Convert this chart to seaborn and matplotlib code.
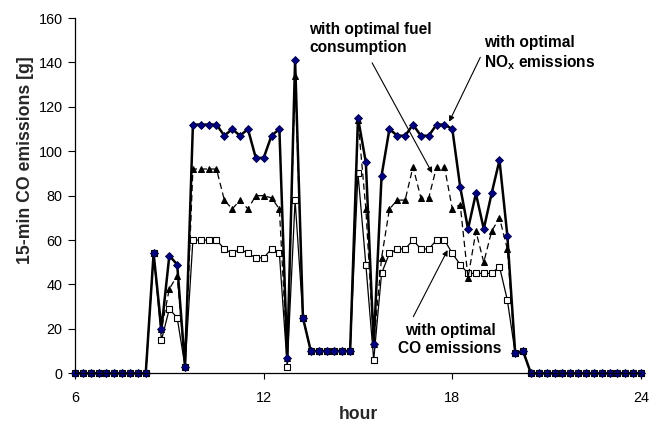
import numpy as np
import matplotlib
matplotlib.use("Agg")
import matplotlib.pyplot as plt
import seaborn as sns

# 15-minute slots from 6:00 to 24:00
hours = np.arange(73) * 0.25 + 6

# 15-min CO emissions [g] for three optimisation targets
nox_opt = [0, 0, 0, 0, 0, 0, 0, 0, 0, 0,
           54, 20, 53, 49, 3, 112, 112, 112, 112, 107, 110, 107, 110, 97, 97,
           107, 110, 7, 141, 25, 10, 10, 10, 10, 10, 10, 115, 95, 13, 89,
           110, 107, 107, 112, 107, 107, 112, 112, 110, 84, 65, 81, 65, 81,
           96, 62, 9, 10,
           0, 0, 0, 0, 0, 0, 0, 0, 0, 0, 0, 0, 0, 0, 0]
fuel_opt = [0, 0, 0, 0, 0, 0, 0, 0, 0, 0,
            54, 20, 38, 44, 3, 92, 92, 92, 92, 78, 74, 78, 74, 80, 80,
            79, 74, 7, 134, 25, 10, 10, 10, 10, 10, 10, 114, 74, 13, 52,
            74, 78, 78, 93, 79, 79, 93, 93, 74, 76, 43, 64, 50, 64,
            70, 56, 9, 10,
            0, 0, 0, 0, 0, 0, 0, 0, 0, 0, 0, 0, 0, 0, 0]
co_opt = [0, 0, 0, 0, 0, 0, 0, 0, 0, 0,
          54, 15, 29, 25, 3, 60, 60, 60, 60, 56, 54, 56, 54, 52, 52,
          56, 54, 3, 78, 25, 10, 10, 10, 10, 10, 10, 90, 49, 6, 45,
          54, 56, 56, 60, 56, 56, 60, 60, 54, 49, 45, 45, 45, 45,
          48, 33, 9, 10,
          0, 0, 0, 0, 0, 0, 0, 0, 0, 0, 0, 0, 0, 0, 0]

x_ticks = [6, 12, 18, 24]
y_ticks = [0, 20, 40, 60, 80, 100, 120, 140, 160]

sns.set_style("ticks")
plt.rcParams["font.family"] = ["Liberation Sans", "DejaVu Sans"]
plt.rcParams["mathtext.fontset"] = "custom"
plt.rcParams["mathtext.rm"] = "Liberation Sans"
plt.rcParams["mathtext.bf"] = "Liberation Sans:bold"

fig, ax = plt.subplots(figsize=(6.51, 4.25), dpi=100)
fig.subplots_adjust(left=0.1152, right=0.9846, bottom=0.1216, top=0.9576)

sns.lineplot(x=hours, y=co_opt, ax=ax, errorbar=None, color="black", lw=0.9,
             marker="s", markersize=4.8, markerfacecolor="white",
             markeredgecolor="black", markeredgewidth=0.8, clip_on=False)
sns.lineplot(x=hours, y=fuel_opt, ax=ax, errorbar=None, color="black", lw=0.9,
             linestyle=(0, (5, 3)), marker="^", markersize=5,
             markerfacecolor="black", markeredgecolor="black", clip_on=False)
sns.lineplot(x=hours, y=nox_opt, ax=ax, errorbar=None, color="black", lw=1.8,
             marker="D", markersize=3.8, markerfacecolor="#000080",
             markeredgecolor="#000040", markeredgewidth=0.6, clip_on=False)

ax.set_xlim(6, 24)
ax.set_ylim(0, 160)
ax.set_xticks(x_ticks)
ax.set_xticklabels([str(t) for t in x_ticks])
ax.set_yticks(y_ticks)
ax.tick_params(axis="both", direction="out", width=0.8,
               labelsize=10.4, colors="black")
ax.tick_params(axis="x", length=4, pad=9)
ax.tick_params(axis="y", length=5, pad=4)
sns.despine(ax=ax)
for side in ("left", "bottom"):
    ax.spines[side].set_color("black")
    ax.spines[side].set_linewidth(0.9)
ax.grid(False)

ax.set_ylabel("15-min CO emissions [g]", fontsize=12.7, fontweight="bold",
              va="center")
ax.yaxis.set_label_coords(-0.0883, 0.60)
ax.set_xlabel("hour", fontsize=12.7, fontweight="bold", va="center")
ax.xaxis.set_label_coords(0.5, -0.115)

txt = dict(fontsize=11.2, fontweight="bold", color="black", linespacing=1.2)
arrow = dict(arrowstyle="-|>", color="black", lw=0.8, mutation_scale=8,
             shrinkA=0, shrinkB=0)

ax.text(13.44, 150.7, "with optimal fuel\nconsumption", ha="left",
        va="center", **txt)
ax.annotate("", xy=(17.36, 90.2), xytext=(15.45, 139.8), arrowprops=arrow)

ax.text(19.01, 144, "with optimal\nNO$_\\mathbf{x}$ emissions", ha="left",
        va="center", **txt)
ax.annotate("", xy=(17.9, 113.3), xytext=(18.89, 142.3), arrowprops=arrow)

ax.text(17.93, 15.2, "with optimal\nCO emissions", ha="center",
        va="center", multialignment="center", **txt)
ax.annotate("", xy=(17.85, 55.5), xytext=(16.76, 25.5), arrowprops=arrow)

fig.savefig("out.png", dpi=100)
